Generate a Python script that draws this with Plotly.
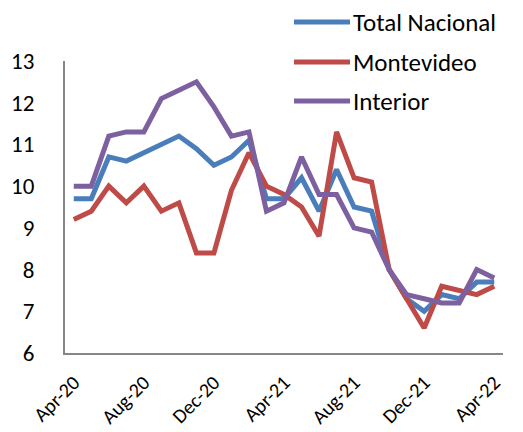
import plotly.graph_objects as go

months = ["Apr-20", "May-20", "Jun-20", "Jul-20", "Aug-20", "Sep-20", "Oct-20", "Nov-20",
          "Dec-20", "Jan-21", "Feb-21", "Mar-21", "Apr-21", "May-21", "Jun-21", "Jul-21",
          "Aug-21", "Sep-21", "Oct-21", "Nov-21", "Dec-21", "Jan-22", "Feb-22", "Mar-22", "Apr-22"]

total_nacional = [9.7, 9.7, 10.7, 10.6, 10.8, 11.0, 11.2, 10.9, 10.5, 10.7, 11.1, 9.7, 9.7,
                  10.2, 9.4, 10.4, 9.5, 9.4, 8.0, 7.3, 7.0, 7.4, 7.3, 7.7, 7.7]
montevideo = [9.2, 9.4, 10.0, 9.6, 10.0, 9.4, 9.6, 8.4, 8.4, 9.9, 10.8, 10.0, 9.8,
              9.5, 8.8, 11.3, 10.2, 10.1, 8.0, 7.3, 6.6, 7.6, 7.5, 7.4, 7.6]
interior = [10.0, 10.0, 11.2, 11.3, 11.3, 12.1, 12.3, 12.5, 11.9, 11.2, 11.3, 9.4, 9.6,
            10.7, 9.8, 9.8, 9.0, 8.9, 8.0, 7.4, 7.3, 7.2, 7.2, 8.0, 7.8]

tick_labels = ["Apr-20", "Aug-20", "Dec-20", "Apr-21", "Aug-21", "Dec-21", "Apr-22"]
y_ticks = [6, 7, 8, 9, 10, 11, 12, 13]

series_names = ["Total Nacional", "Montevideo", "Interior"]
series_values = [total_nacional, montevideo, interior]
series_colors = ["#4A7EBB", "#BE4B48", "#7D60A0"]

# The page body adds an 8px offset, so the figure is sized to fill the window from there.
OFF = 8
W, H = 523 - OFF, 432 - OFF
ML, MT = 65 - OFF, 61 - OFF
MR = W - (503 - OFF)
MB = H - (353 - OFF)
PW, PH = W - ML - MR, H - MT - MB

font_family = "Carlito, Calibri, Lato, sans-serif"

fig = go.Figure()
for name, vals, color in zip(series_names, series_values, series_colors):
    fig.add_trace(go.Scatter(
        x=months, y=vals, mode="lines", name=name,
        line=dict(color=color, width=5), showlegend=False,
    ))

# Legend drawn in paper coordinates (swatch + label) to match the reference layout
legend_rows_px = [22, 62, 101]
for name, color, ypx in zip(series_names, series_colors, legend_rows_px):
    yp = (H - MB - (ypx - OFF)) / PH
    fig.add_shape(type="line", xref="paper", yref="paper",
                  x0=(294 - OFF - ML) / PW, x1=(350 - OFF - ML) / PW, y0=yp, y1=yp,
                  line=dict(color=color, width=5))
    fig.add_annotation(text=name, xref="paper", yref="paper",
                       x=(351 - OFF - ML) / PW, y=yp, xanchor="left", yanchor="middle",
                       showarrow=False,
                       font=dict(family=font_family, size=25, color="black"))

fig.update_layout(
    width=W, height=H,
    margin=dict(l=ML, r=MR, t=MT, b=MB, autoexpand=False),
    paper_bgcolor="white", plot_bgcolor="white",
    font=dict(family=font_family, size=22, color="black"),
    showlegend=False,
)
fig.update_xaxes(
    type="category", categoryorder="array", categoryarray=months,
    range=[-0.5, 24.5], automargin=False,
    tickmode="array", tickvals=tick_labels, ticktext=tick_labels,
    tickangle=-45, showgrid=False, showline=True, linecolor="#868686", linewidth=2,
    ticks="", tickfont=dict(size=20), ticklabelstandoff=8,
)
fig.update_yaxes(
    range=[6, 13], tickvals=y_ticks, showgrid=False, showline=True, automargin=False,
    linecolor="#868686", linewidth=2, ticks="", zeroline=False,
    ticklabelstandoff=24, tickfont=dict(size=23),
)

fig.write_html("out.html")
